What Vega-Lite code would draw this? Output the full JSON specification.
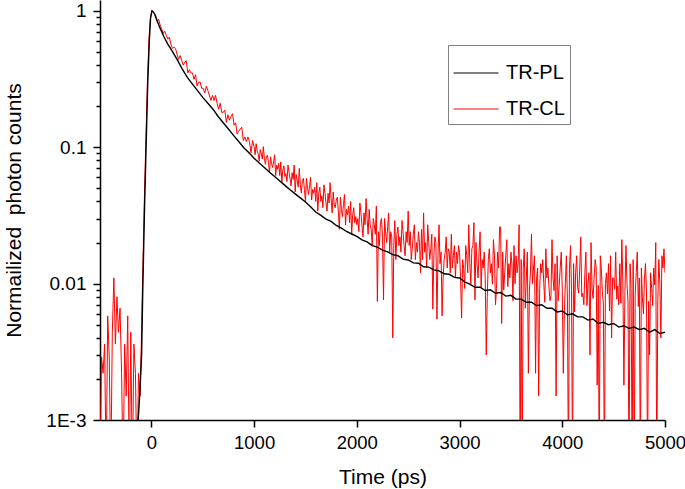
{
"$schema": "https://vega.github.io/schema/vega-lite/v6.json",
"width": 565, "height": 420,
"autosize": {"type": "none"},
"padding": {"left": 100, "top": 0, "right": 20, "bottom": 69},
"background": "white",
"config": {"view": {"stroke": null}, "font": "Liberation Sans"},
"datasets": {
"cl": [
{"t":-500,"v":0.0004},{"t":-485,"v":0.0029},{"t":-470,"v":0.0022},{"t":-455,"v":0.0036},{"t":-440,"v":0.0004},{"t":-425,"v":0.0058},{"t":-410,"v":0.0029},{"t":-395,"v":0.0004},{"t":-380,"v":0.0044},{"t":-365,"v":0.011},{"t":-350,"v":0.0036},{"t":-335,"v":0.008},{"t":-320,"v":0.0044},{"t":-305,"v":0.0066},{"t":-290,"v":0.0022},{"t":-275,"v":0.0004},{"t":-260,"v":0.0036},{"t":-245,"v":0.0015},{"t":-230,"v":0.0058},{"t":-215,"v":0.0004},{"t":-200,"v":0.0044},{"t":-185,"v":0.0004},{"t":-170,"v":0.0036},{"t":-155,"v":0.0022},{"t":-140,"v":0.0004},{"t":-125,"v":0.0022},{"t":-110,"v":0.0015},{"t":-98,"v":0.0036},{"t":-83,"v":0.013},{"t":-68,"v":0.042},{"t":-53,"v":0.115},{"t":-38,"v":0.31},{"t":-23,"v":0.63},{"t":-8,"v":0.9},{"t":7,"v":1.0},{"t":25,"v":0.97},
{"t":40,"v":0.93},{"t":55,"v":0.84},{"t":70,"v":0.87},{"t":85,"v":0.79},{"t":100,"v":0.74},{"t":115,"v":0.68},{"t":130,"v":0.71},{"t":145,"v":0.66},{"t":160,"v":0.62},{"t":175,"v":0.64},{"t":190,"v":0.57},{"t":205,"v":0.53},{"t":220,"v":0.54},{"t":235,"v":0.53},{"t":250,"v":0.48},{"t":265,"v":0.44},{"t":280,"v":0.47},{"t":295,"v":0.435},
{"t":310,"v":0.40},{"t":325,"v":0.42},{"t":340,"v":0.43},{"t":355,"v":0.35},{"t":370,"v":0.37},{"t":385,"v":0.35},{"t":400,"v":0.35},{"t":415,"v":0.315},{"t":430,"v":0.34},{"t":445,"v":0.28},{"t":460,"v":0.30},{"t":475,"v":0.30},{"t":490,"v":0.27},{"t":505,"v":0.27},{"t":520,"v":0.25},{"t":535,"v":0.28},{"t":550,"v":0.26},{"t":565,"v":0.24},{"t":580,"v":0.22},{"t":595,"v":0.24},{"t":610,"v":0.22},{"t":625,"v":0.24},{"t":640,"v":0.21},{"t":655,"v":0.19},{"t":670,"v":0.21},{"t":685,"v":0.18},{"t":700,"v":0.18},
{"t":715,"v":0.187},{"t":730,"v":0.152},{"t":745,"v":0.173},{"t":760,"v":0.158},{"t":775,"v":0.168},{"t":790,"v":0.176},{"t":805,"v":0.145},{"t":820,"v":0.151},{"t":835,"v":0.125},{"t":850,"v":0.131},{"t":865,"v":0.136},{"t":880,"v":0.14},{"t":895,"v":0.112},{"t":910,"v":0.119},{"t":925,"v":0.11},{"t":940,"v":0.119},{"t":955,"v":0.11},{"t":970,"v":0.091},{"t":985,"v":0.112},
{"t":1000,"v":0.101},{"t":1010,"v":0.088},{"t":1020,"v":0.106},{"t":1030,"v":0.094},{"t":1040,"v":0.089},{"t":1050,"v":0.079},{"t":1060,"v":0.096},{"t":1070,"v":0.089},{"t":1080,"v":0.082},{"t":1090,"v":0.101},{"t":1100,"v":0.083},{"t":1110,"v":0.075},{"t":1120,"v":0.086},{"t":1130,"v":0.087},{"t":1140,"v":0.077},{"t":1150,"v":0.065},{"t":1160,"v":0.085},{"t":1170,"v":0.076},{"t":1180,"v":0.071},{"t":1190,"v":0.078},
{"t":1200,"v":0.088},{"t":1210,"v":0.062},{"t":1220,"v":0.074},{"t":1230,"v":0.069},{"t":1240,"v":0.076},{"t":1250,"v":0.062},{"t":1260,"v":0.078},{"t":1270,"v":0.055},{"t":1280,"v":0.068},{"t":1290,"v":0.073},{"t":1300,"v":0.061},{"t":1310,"v":0.064},{"t":1320,"v":0.056},{"t":1330,"v":0.074},{"t":1340,"v":0.066},{"t":1350,"v":0.059},{"t":1360,"v":0.052},{"t":1370,"v":0.065},{"t":1380,"v":0.058},{"t":1390,"v":0.074},
{"t":1400,"v":0.047},{"t":1410,"v":0.063},{"t":1420,"v":0.057},{"t":1430,"v":0.051},{"t":1440,"v":0.07},{"t":1450,"v":0.053},{"t":1460,"v":0.046},{"t":1470,"v":0.057},{"t":1480,"v":0.059},{"t":1490,"v":0.049},{"t":1500,"v":0.04},{"t":1510,"v":0.059},{"t":1520,"v":0.05},{"t":1530,"v":0.045},{"t":1540,"v":0.052},{"t":1550,"v":0.06},{"t":1560,"v":0.041},{"t":1570,"v":0.049},{"t":1580,"v":0.046},{"t":1590,"v":0.051},
{"t":1600,"v":0.04},{"t":1610,"v":0.055},{"t":1620,"v":0.034},{"t":1630,"v":0.046},{"t":1640,"v":0.051},{"t":1650,"v":0.04},{"t":1660,"v":0.044},{"t":1670,"v":0.036},{"t":1680,"v":0.053},{"t":1690,"v":0.046},{"t":1700,"v":0.039},{"t":1710,"v":0.034},{"t":1720,"v":0.046},{"t":1730,"v":0.039},{"t":1740,"v":0.055},{"t":1750,"v":0.042},{"t":1760,"v":0.033},{"t":1770,"v":0.047},{"t":1780,"v":0.038},{"t":1790,"v":0.036},
{"t":1800,"v":0.041},{"t":1810,"v":0.043},{"t":1820,"v":0.034},{"t":1830,"v":0.025},{"t":1840,"v":0.043},{"t":1850,"v":0.035},{"t":1860,"v":0.031},{"t":1870,"v":0.038},{"t":1880,"v":0.045},{"t":1890,"v":0.027},{"t":1900,"v":0.035},{"t":1910,"v":0.032},{"t":1920,"v":0.037},{"t":1930,"v":0.028},{"t":1940,"v":0.04},{"t":1950,"v":0.023},{"t":1960,"v":0.032},{"t":1970,"v":0.036},{"t":1980,"v":0.028},{"t":1990,"v":0.031},
{"t":2000,"v":0.027},{"t":2010,"v":0.03},{"t":2020,"v":0.024},{"t":2030,"v":0.039},{"t":2040,"v":0.033},{"t":2050,"v":0.027},{"t":2060,"v":0.022},{"t":2070,"v":0.033},{"t":2080,"v":0.027},{"t":2090,"v":0.042},{"t":2100,"v":0.03},{"t":2110,"v":0.023},{"t":2120,"v":0.035},{"t":2130,"v":0.027},{"t":2140,"v":0.025},{"t":2150,"v":0.019},{"t":2160,"v":0.03},{"t":2170,"v":0.027},{"t":2180,"v":0.023},{"t":2190,"v":0.037},
{"t":2200,"v":0.0074},{"t":2210,"v":0.024},{"t":2220,"v":0.019},{"t":2230,"v":0.028},{"t":2240,"v":0.03},{"t":2250,"v":0.022},{"t":2260,"v":0.0076},{"t":2270,"v":0.03},{"t":2280,"v":0.024},{"t":2290,"v":0.02},{"t":2300,"v":0.026},{"t":2310,"v":0.033},{"t":2320,"v":0.017},{"t":2330,"v":0.024},{"t":2340,"v":0.022},{"t":2350,"v":0.004},{"t":2360,"v":0.019},{"t":2370,"v":0.029},{"t":2380,"v":0.015},{"t":2390,"v":0.023},
{"t":2400,"v":0.026},{"t":2410,"v":0.019},{"t":2420,"v":0.022},{"t":2430,"v":0.017},{"t":2440,"v":0.029},{"t":2450,"v":0.024},{"t":2460,"v":0.019},{"t":2470,"v":0.016},{"t":2480,"v":0.024},{"t":2490,"v":0.02},
{"t":2500,"v":0.034},{"t":2510,"v":0.019},{"t":2520,"v":0.024},{"t":2530,"v":0.015},{"t":2540,"v":0.018},{"t":2550,"v":0.023},{"t":2560,"v":0.027},{"t":2570,"v":0.015},{"t":2580,"v":0.02},{"t":2590,"v":0.017},{"t":2600,"v":0.024},{"t":2610,"v":0.02},{"t":2620,"v":0.012},{"t":2630,"v":0.025},{"t":2640,"v":0.015},{"t":2650,"v":0.033},{"t":2660,"v":0.017},{"t":2670,"v":0.02},{"t":2680,"v":0.013},{"t":2690,"v":0.027},
{"t":2700,"v":0.02},{"t":2710,"v":0.015},{"t":2720,"v":0.018},{"t":2730,"v":0.023},{"t":2740,"v":0.0065},{"t":2750,"v":0.016},{"t":2760,"v":0.022},{"t":2770,"v":0.02},{"t":2780,"v":0.0055},{"t":2790,"v":0.016},{"t":2800,"v":0.027},{"t":2810,"v":0.014},{"t":2820,"v":0.017},{"t":2830,"v":0.0058},{"t":2840,"v":0.011},{"t":2850,"v":0.015},{"t":2860,"v":0.017},{"t":2870,"v":0.022},{"t":2880,"v":0.013},{"t":2890,"v":0.018},
{"t":2900,"v":0.017},{"t":2910,"v":0.012},{"t":2920,"v":0.023},{"t":2930,"v":0.013},{"t":2940,"v":0.016},{"t":2950,"v":0.019},{"t":2960,"v":0.011},{"t":2970,"v":0.017},{"t":2980,"v":0.014},{"t":2990,"v":0.019},
{"t":3000,"v":0.017},{"t":3010,"v":0.011},{"t":3020,"v":0.0056},{"t":3030,"v":0.015},{"t":3040,"v":0.013},{"t":3050,"v":0.0092},{"t":3060,"v":0.019},{"t":3070,"v":0.016},{"t":3080,"v":0.012},{"t":3090,"v":0.027},{"t":3100,"v":0.014},{"t":3110,"v":0.01},{"t":3120,"v":0.018},{"t":3130,"v":0.019},{"t":3140,"v":0.028},{"t":3150,"v":0.0076},{"t":3160,"v":0.02},{"t":3170,"v":0.014},{"t":3180,"v":0.011},{"t":3190,"v":0.017},
{"t":3200,"v":0.024},{"t":3210,"v":0.0093},{"t":3220,"v":0.015},{"t":3230,"v":0.013},{"t":3240,"v":0.017},{"t":3250,"v":0.011},{"t":3260,"v":0.003},{"t":3270,"v":0.008},{"t":3280,"v":0.015},{"t":3290,"v":0.018},{"t":3300,"v":0.012},{"t":3310,"v":0.014},{"t":3320,"v":0.0099},{"t":3330,"v":0.021},{"t":3340,"v":0.016},{"t":3350,"v":0.007},{"t":3360,"v":0.0092},{"t":3370,"v":0.017},{"t":3380,"v":0.013},{"t":3390,"v":0.026},
{"t":3400,"v":0.026},{"t":3410,"v":0.0051},{"t":3420,"v":0.017},{"t":3430,"v":0.009},{"t":3440,"v":0.012},{"t":3450,"v":0.016},{"t":3460,"v":0.021},{"t":3470,"v":0.0095},{"t":3480,"v":0.014},{"t":3490,"v":0.011},{"t":3500,"v":0.017},{"t":3510,"v":0.014},{"t":3520,"v":0.0075},{"t":3530,"v":0.019},{"t":3540,"v":0.01},{"t":3550,"v":0.016},{"t":3560,"v":0.012},{"t":3570,"v":0.014},{"t":3580,"v":0.027},{"t":3590,"v":0.0004},
{"t":3600,"v":0.015},{"t":3610,"v":0.0004},{"t":3620,"v":0.013},{"t":3630,"v":0.018},{"t":3640,"v":0.0066},{"t":3650,"v":0.011},{"t":3660,"v":0.017},{"t":3670,"v":0.0022},{"t":3680,"v":0.0088},{"t":3690,"v":0.012},{"t":3700,"v":0.023},{"t":3710,"v":0.01},{"t":3720,"v":0.013},{"t":3730,"v":0.016},{"t":3740,"v":0.0022},{"t":3750,"v":0.011},{"t":3760,"v":0.013},{"t":3770,"v":0.0015},{"t":3780,"v":0.0092},{"t":3790,"v":0.014},
{"t":3800,"v":0.012},{"t":3810,"v":0.015},{"t":3820,"v":0.01},{"t":3830,"v":0.0073},{"t":3840,"v":0.018},{"t":3850,"v":0.011},{"t":3860,"v":0.013},{"t":3870,"v":0.0096},{"t":3880,"v":0.0075},{"t":3890,"v":0.0081},{"t":3900,"v":0.021},{"t":3910,"v":0.011},{"t":3920,"v":0.0089},{"t":3930,"v":0.014},{"t":3940,"v":0.0015},{"t":3950,"v":0.016},{"t":3960,"v":0.0075},{"t":3970,"v":0.0097},{"t":3980,"v":0.013},{"t":3990,"v":0.017},
{"t":4000,"v":0.0091},{"t":4010,"v":0.0022},{"t":4020,"v":0.006},{"t":4030,"v":0.01},{"t":4040,"v":0.016},{"t":4050,"v":0.0077},{"t":4060,"v":0.0004},{"t":4070,"v":0.013},{"t":4080,"v":0.019},{"t":4090,"v":0.0089},{"t":4100,"v":0.0004},{"t":4110,"v":0.014},{"t":4120,"v":0.0062},{"t":4130,"v":0.012},{"t":4140,"v":0.016},{"t":4150,"v":0.0094},{"t":4160,"v":0.0085},{"t":4170,"v":0.013},{"t":4180,"v":0.022},{"t":4190,"v":0.008},
{"t":4200,"v":0.0085},{"t":4210,"v":0.007},{"t":4220,"v":0.012},{"t":4230,"v":0.017},{"t":4240,"v":0.0069},{"t":4250,"v":0.01},{"t":4260,"v":0.012},{"t":4270,"v":0.003},{"t":4280,"v":0.02},{"t":4290,"v":0.0092},{"t":4300,"v":0.0078},{"t":4310,"v":0.011},{"t":4320,"v":0.015},{"t":4330,"v":0.013},{"t":4340,"v":0.0018},{"t":4350,"v":0.0097},{"t":4360,"v":0.0004},{"t":4370,"v":0.016},{"t":4380,"v":0.013},{"t":4390,"v":0.0087},
{"t":4400,"v":0.0072},{"t":4410,"v":0.0004},{"t":4420,"v":0.01},{"t":4430,"v":0.012},{"t":4440,"v":0.0084},{"t":4450,"v":0.014},{"t":4460,"v":0.0063},{"t":4470,"v":0.016},{"t":4480,"v":0.004},{"t":4490,"v":0.011},{"t":4500,"v":0.011},{"t":4510,"v":0.0091},{"t":4520,"v":0.017},{"t":4530,"v":0.0077},{"t":4540,"v":0.0096},{"t":4550,"v":0.007},{"t":4560,"v":0.014},{"t":4570,"v":0.0072},{"t":4580,"v":0.021},{"t":4590,"v":0.01},
{"t":4600,"v":0.0018},{"t":4610,"v":0.0087},{"t":4620,"v":0.019},{"t":4630,"v":0.01},{"t":4640,"v":0.0073},{"t":4650,"v":0.0004},{"t":4660,"v":0.014},{"t":4670,"v":0.0092},{"t":4680,"v":0.0004},{"t":4690,"v":0.015},{"t":4700,"v":0.0004},{"t":4710,"v":0.0083},{"t":4720,"v":0.012},{"t":4730,"v":0.017},{"t":4740,"v":0.0068},{"t":4750,"v":0.011},{"t":4760,"v":0.0004},{"t":4770,"v":0.013},{"t":4780,"v":0.0079},{"t":4790,"v":0.006},
{"t":4800,"v":0.011},{"t":4810,"v":0.014},{"t":4820,"v":0.0087},{"t":4830,"v":0.0004},{"t":4840,"v":0.0074},{"t":4850,"v":0.003},{"t":4860,"v":0.012},{"t":4870,"v":0.0092},{"t":4880,"v":0.0069},{"t":4890,"v":0.013},{"t":4900,"v":0.0098},{"t":4910,"v":0.02},{"t":4920,"v":0.0004},{"t":4930,"v":0.0075},{"t":4940,"v":0.015},{"t":4950,"v":0.01},{"t":4960,"v":0.004},{"t":4970,"v":0.016},{"t":4980,"v":0.013},{"t":4990,"v":0.018},{"t":5000,"v":0.012}
],
"pl": [
{"t":-140,"v":0.0008},{"t":-125,"v":0.0011},{"t":-110,"v":0.0017},{"t":-95,"v":0.003},{"t":-85,"v":0.008},{"t":-75,"v":0.018},{"t":-65,"v":0.04},{"t":-50,"v":0.11},{"t":-35,"v":0.3},{"t":-20,"v":0.6},{"t":-8,"v":0.88},{"t":5,"v":1.0},{"t":15,"v":0.99},{"t":30,"v":0.95},{"t":55,"v":0.85},{"t":80,"v":0.76},{"t":120,"v":0.65},{"t":160,"v":0.57},{"t":200,"v":0.51},{"t":250,"v":0.44},{"t":300,"v":0.375},{"t":350,"v":0.325},{"t":400,"v":0.29},{"t":450,"v":0.26},{"t":500,"v":0.232},{"t":550,"v":0.21},{"t":600,"v":0.19},{"t":650,"v":0.168},{"t":700,"v":0.151},{"t":750,"v":0.136},{"t":800,"v":0.122},{"t":850,"v":0.11},{"t":900,"v":0.099},{"t":950,"v":0.091},{"t":1000,"v":0.083},{"t":1050,"v":0.0765},{"t":1100,"v":0.071},{"t":1150,"v":0.0655},{"t":1200,"v":0.061},{"t":1250,"v":0.0565},{"t":1300,"v":0.0525},{"t":1350,"v":0.0488},{"t":1400,"v":0.0455},{"t":1450,"v":0.0425},{"t":1500,"v":0.0396},{"t":1550,"v":0.0366},{"t":1600,"v":0.0335},{"t":1650,"v":0.0316},{"t":1700,"v":0.0297},{"t":1750,"v":0.0286},{"t":1800,"v":0.0267},{"t":1850,"v":0.0255},{"t":1900,"v":0.0241},{"t":1950,"v":0.0231},
{"t":2000,"v":0.0222},{"t":2050,"v":0.0209},{"t":2100,"v":0.0202},{"t":2150,"v":0.019},{"t":2200,"v":0.0185},{"t":2250,"v":0.0176},{"t":2300,"v":0.0171},{"t":2350,"v":0.0163},{"t":2400,"v":0.016},{"t":2450,"v":0.0151},{"t":2500,"v":0.0149},{"t":2550,"v":0.0142},{"t":2600,"v":0.0141},{"t":2650,"v":0.0133},{"t":2700,"v":0.0132},{"t":2750,"v":0.0126},{"t":2800,"v":0.0124},{"t":2850,"v":0.0118},{"t":2900,"v":0.0117},{"t":2950,"v":0.0111},{"t":3000,"v":0.011},{"t":3050,"v":0.0103},{"t":3100,"v":0.0099},{"t":3150,"v":0.0094},{"t":3200,"v":0.0094},{"t":3250,"v":0.0089},{"t":3300,"v":0.009},{"t":3350,"v":0.0085},{"t":3400,"v":0.0086},{"t":3450,"v":0.0081},{"t":3500,"v":0.0082},{"t":3550,"v":0.0077},{"t":3600,"v":0.0077},{"t":3650,"v":0.0073},{"t":3700,"v":0.0073},{"t":3750,"v":0.0069},{"t":3800,"v":0.007},{"t":3850,"v":0.0066},{"t":3900,"v":0.0066},{"t":3950,"v":0.0062},{"t":4000,"v":0.0063},{"t":4050,"v":0.0059},{"t":4100,"v":0.006},{"t":4150,"v":0.0057},{"t":4200,"v":0.0057},{"t":4250,"v":0.0054},{"t":4300,"v":0.0055},{"t":4350,"v":0.0051},{"t":4400,"v":0.0052},{"t":4450,"v":0.005},{"t":4500,"v":0.0051},{"t":4550,"v":0.0048},{"t":4600,"v":0.0049},{"t":4650,"v":0.0047},{"t":4700,"v":0.0048},{"t":4750,"v":0.0046},{"t":4800,"v":0.0047},{"t":4850,"v":0.0044},{"t":4900,"v":0.0046},{"t":4950,"v":0.0043},{"t":5000,"v":0.0044}
]
},
"layer": [
{
"data": {"name": "cl"},
"mark": {"type": "line", "strokeWidth": 1.0, "clip": true},
"encoding": {
"x": {"field": "t", "type": "quantitative",
"scale": {"domain": [-500, 5000], "nice": false, "zero": false},
"axis": {"values": [0, 1000, 2000, 3000, 4000, 5000], "title": "Time (ps)", "grid": false,
"domainColor": "#000000", "domainWidth": 1.5, "tickColor": "#000000", "tickWidth": 1.5, "tickSize": 7,
"labelFontSize": 18.5, "labelColor": "#000000", "labelPadding": 6, "labelFlush": false, "labelOverlap": false, "labelBound": false,
"titleFontSize": 21, "titleFontWeight": "normal", "titleColor": "#000000", "titlePadding": 15, "format": "d"}},
"y": {"field": "v", "type": "quantitative",
"scale": {"type": "log", "domain": [0.001, 1.2], "nice": false},
"axis": {"values": [0.001,0.002,0.003,0.004,0.005,0.006,0.007,0.008,0.009,0.01,0.02,0.03,0.04,0.05,0.06,0.07,0.08,0.09,0.1,0.2,0.3,0.4,0.5,0.6,0.7,0.8,0.9,1],
"labelExpr": "datum.value == 1 ? '1' : datum.value == 0.1 ? '0.1' : datum.value == 0.01 ? '0.01' : datum.value == 0.001 ? '1E-3' : ''",
"title": "Normailized\u00a0 photon counts", "grid": false,
"domainColor": "#000000", "domainWidth": 1.5, "tickColor": "#000000", "tickWidth": 1.5,
"tickSize": {"condition": {"test": "indexof([1, 0.1, 0.01, 0.001], datum.value) >= 0", "value": 7}, "value": 4},
"labelFontSize": 19, "labelColor": "#000000", "labelPadding": 7, "labelOverlap": false, "labelBound": false, "labelFlush": false,
"titleFontSize": 21, "titleFontWeight": "normal", "titleColor": "#000000", "titlePadding": 21}},
"color": {"datum": "TR-CL", "type": "nominal",
"scale": {"domain": ["TR-PL", "TR-CL"], "range": ["#000000", "#ff0000"]},
"legend": {"title": null, "orient": "none", "legendX": 348, "legendY": 45,
"symbolType": "stroke", "symbolSize": 2025, "symbolStrokeWidth": 1, "labelFontSize": 20, "labelColor": "#000000",
"labelOffset": 7, "rowPadding": 3, "padding": 5, "strokeColor": "#808080", "fillColor": "#ffffff", "labelLimit": 200}}
}
},
{
"data": {"name": "pl"},
"mark": {"type": "line", "strokeWidth": 1.4, "clip": true},
"encoding": {
"x": {"field": "t", "type": "quantitative"},
"y": {"field": "v", "type": "quantitative"},
"color": {"datum": "TR-PL", "type": "nominal"}
}
}
]
}
